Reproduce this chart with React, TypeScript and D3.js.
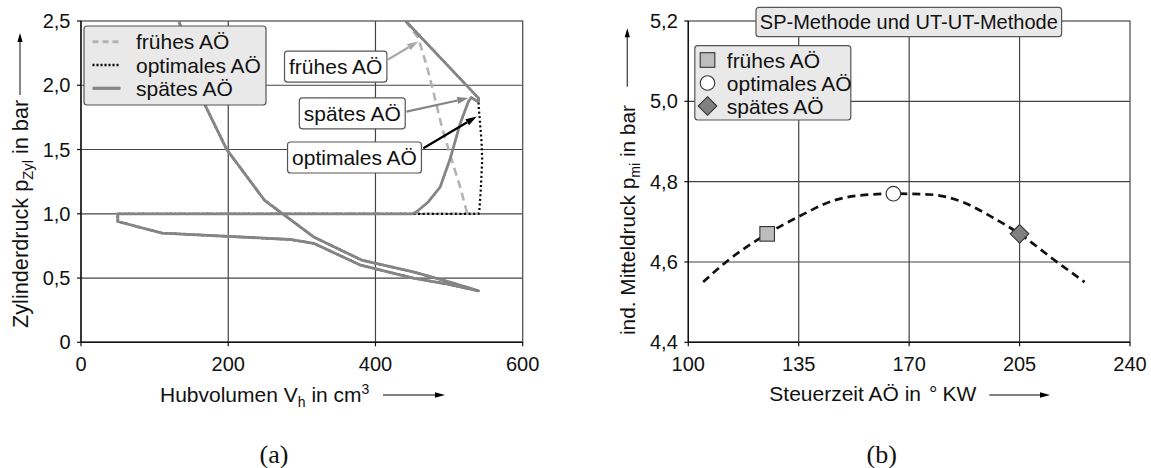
import React, { useEffect, useRef } from 'react';
import * as d3 from 'd3';

const W = 1151;
const H = 468;
const SANS = '"Liberation Sans", Arial, Helvetica, sans-serif';
const SERIF = '"Liberation Serif", "DejaVu Serif", serif';

// ---------- Panel (a): p-V diagram ----------
const volTicks = [0, 200, 400, 600];
const volLabels = ['0', '200', '400', '600'];
const pTicks = [0, 0.5, 1.0, 1.5, 2.0, 2.5];
const pLabels = ['0', '0,5', '1,0', '1,5', '2,0', '2,5'];

// exhaust stroke, intake stroke and compression (common to all three cases)
const sharedCycle: [number, number][] = [
  [450, 1.0], [50, 1.0], [50, 0.94], [110, 0.85], [284, 0.80], [316, 0.77],
  [380, 0.60], [451, 0.50], [500, 0.45], [540, 0.40],
  [500, 0.47], [450, 0.55], [381, 0.64], [316, 0.82], [249, 1.107],
  [198, 1.5], [169, 1.84], [133, 2.5],
];
// expansion + blow-down, different for each exhaust-opening time
const fruehBlowdown: [number, number][] = [
  [441, 2.5], [458, 2.37], [470, 2.145], [479, 1.94], [490, 1.68], [503.5, 1.42],
  [515, 1.21], [524, 1.016], [527, 1.0], [540, 1.0],
];
const optimalBlowdown: [number, number][] = [
  [441, 2.5], [540, 1.90], [540, 1.85], [544, 1.57], [545, 1.42], [543, 1.185],
  [541, 1.016], [540, 1.0],
];
const spaetBlowdown: [number, number][] = [
  [441, 2.5], [540, 1.90], [540, 1.87], [530, 1.905], [526, 1.87], [515, 1.70],
  [501, 1.42], [488, 1.21], [472, 1.094], [456, 1.016],
];

const seriesA = [
  { name: 'frühes AÖ', pts: [...fruehBlowdown, ...sharedCycle], color: '#b3b3b3', width: 2.6, dash: '8,5' },
  { name: 'optimales AÖ', pts: [...optimalBlowdown, ...sharedCycle], color: '#000000', width: 2.2, dash: '2,2.6' },
  { name: 'spätes AÖ', pts: [...spaetBlowdown, ...sharedCycle], color: '#858585', width: 2.8, dash: null },
];

// annotation boxes (data coordinates)
const annotations = [
  { label: 'frühes AÖ', cx: 346, cy: 2.145, ax: 417, ay: 2.20, tx: 458, ty: 2.34, color: '#aaaaaa' },
  { label: 'spätes AÖ', cx: 368.5, cy: 1.782, ax: 442, ay: 1.795, tx: 526, ty: 1.90, color: '#858585' },
  { label: 'optimales AÖ', cx: 371.5, cy: 1.438, ax: 465, ay: 1.51, tx: 537.5, ty: 1.756, color: '#000000' },
];

// ---------- Panel (b): mean pressure vs. timing ----------
const timeTicks = [100, 135, 170, 205, 240];
const timeLabels = ['100', '135', '170', '205', '240'];
const pmiTicks = [4.4, 4.6, 4.8, 5.0, 5.2];
const pmiLabels = ['4,4', '4,6', '4,8', '5,0', '5,2'];
const pmiCurveX = [104.7, 112, 125, 135, 146.5, 156, 165, 176.5, 187, 196, 205, 216, 225.6];
const pmiCurveY = [4.55, 4.60, 4.67, 4.713, 4.754, 4.767, 4.77, 4.768, 4.749, 4.713, 4.67, 4.605, 4.55];
const markerNames = ['frühes AÖ', 'optimales AÖ', 'spätes AÖ'];
const markerX = [125, 165, 205];
const markerY = [4.67, 4.77, 4.67];
const markerShapes = ['square', 'circle', 'diamond'];
const markerFills = ['#bdbdbd', '#ffffff', '#808080'];

function drawMarker(g: any, shape: string, x: number, y: number, fill: string) {
  if (shape === 'square') {
    g.append('rect').attr('x', x - 7.3).attr('y', y - 7.3).attr('width', 14.6).attr('height', 14.6)
      .attr('fill', fill).attr('stroke', '#333').attr('stroke-width', 1.1);
  } else if (shape === 'circle') {
    g.append('circle').attr('cx', x).attr('cy', y).attr('r', 7.3)
      .attr('fill', fill).attr('stroke', '#333').attr('stroke-width', 1.1);
  } else {
    const s = 9.3;
    g.append('path').attr('d', `M${x},${y - s}L${x + s},${y}L${x},${y + s}L${x - s},${y}Z`)
      .attr('fill', fill).attr('stroke', '#333').attr('stroke-width', 1.1);
  }
}

function drawPanel(root: any, opts: any) {
  const { x, y, xTicks, xLabels, yTicks, yLabels } = opts;
  const [x0, x1] = x.range();
  const [y1, y0] = y.range();
  const g = root.append('g');
  xTicks.slice(1, -1).forEach((t: number) => {
    g.append('line').attr('x1', x(t)).attr('x2', x(t)).attr('y1', y0).attr('y2', y1)
      .attr('stroke', '#444').attr('stroke-width', 1.2);
  });
  yTicks.slice(1, -1).forEach((t: number) => {
    g.append('line').attr('x1', x0).attr('x2', x1).attr('y1', y(t)).attr('y2', y(t))
      .attr('stroke', '#444').attr('stroke-width', 1.2);
  });
  g.append('rect').attr('x', x0).attr('y', y0).attr('width', x1 - x0).attr('height', y1 - y0)
    .attr('fill', 'none').attr('stroke', '#555').attr('stroke-width', 1.3);
  g.append('line').attr('x1', x0).attr('x2', x0).attr('y1', y0).attr('y2', y1).attr('stroke', '#111').attr('stroke-width', 1.4);
  g.append('line').attr('x1', x0).attr('x2', x1).attr('y1', y1).attr('y2', y1).attr('stroke', '#111').attr('stroke-width', 1.4);
  xTicks.forEach((t: number, i: number) => {
    g.append('line').attr('x1', x(t)).attr('x2', x(t)).attr('y1', y1).attr('y2', y1 + 4).attr('stroke', '#111').attr('stroke-width', 1.2);
    g.append('text').attr('x', x(t)).attr('y', y1 + 28.5).attr('text-anchor', 'middle')
      .attr('font-family', SANS).attr('font-size', 20).attr('fill', '#111').text(xLabels[i]);
  });
  yTicks.forEach((t: number, i: number) => {
    g.append('line').attr('x1', x0 - 4).attr('x2', x0).attr('y1', y(t)).attr('y2', y(t)).attr('stroke', '#111').attr('stroke-width', 1.2);
    g.append('text').attr('x', x0 - 10.5).attr('y', y(t) + 7).attr('text-anchor', 'end')
      .attr('font-family', SANS).attr('font-size', 20).attr('fill', '#111').text(yLabels[i]);
  });
}

function yTitle(root: any, bx: number, by: number, size: number, main: string, sub: string, rest: string, arrowX: number, arrowTop: number, arrowBottom: number) {
  const t = root.append('text').attr('transform', `translate(${bx},${by}) rotate(-90)`)
    .attr('font-family', SANS).attr('font-size', size).attr('fill', '#111');
  t.append('tspan').text(main);
  t.append('tspan').attr('font-size', size * 0.68).attr('dy', 5).text(sub);
  t.append('tspan').attr('dy', -5).text(rest);
  root.append('line').attr('x1', arrowX).attr('x2', arrowX).attr('y1', arrowBottom).attr('y2', arrowTop + 6)
    .attr('stroke', '#444').attr('stroke-width', 1.3);
  root.append('path').attr('d', `M${arrowX},${arrowTop}L${arrowX + 2.6},${arrowTop + 9}L${arrowX - 2.6},${arrowTop + 9}Z`).attr('fill', '#000');
}

function xArrow(root: any, xs: number, xe: number, yy: number) {
  root.append('line').attr('x1', xs).attr('x2', xe - 6).attr('y1', yy).attr('y2', yy)
    .attr('stroke', '#555').attr('stroke-width', 1.4);
  root.append('path').attr('d', `M${xe},${yy}L${xe - 10},${yy - 2.8}L${xe - 10},${yy + 2.8}Z`).attr('fill', '#000');
}

function draw(svgEl: SVGSVGElement) {
  const root = d3.select(svgEl);
  root.selectAll('*').remove();
  root.append('rect').attr('width', W).attr('height', H).attr('fill', '#fff');
  const defs = root.append('defs');

  // ======== Panel (a) ========
  const xa = d3.scaleLinear().domain([0, 600]).range([81, 522.7]);
  const ya = d3.scaleLinear().domain([0, 2.5]).range([342.3, 21]);
  drawPanel(root, { x: xa, y: ya, xTicks: volTicks, xLabels: volLabels, yTicks: pTicks, yLabels: pLabels });

  defs.append('clipPath').attr('id', 'clipA').append('rect')
    .attr('x', 81).attr('y', 21).attr('width', 522.7 - 81).attr('height', 342.3 - 21);
  const lineA = d3.line<[number, number]>().x(d => xa(d[0])).y(d => ya(d[1]));
  const gA = root.append('g').attr('clip-path', 'url(#clipA)');
  seriesA.forEach(s => {
    const p = gA.append('path').attr('d', lineA(s.pts)).attr('fill', 'none')
      .attr('stroke', s.color).attr('stroke-width', s.width).attr('stroke-linejoin', 'round');
    if (s.dash) p.attr('stroke-dasharray', s.dash);
  });

  annotations.forEach(a => {
    const g = root.append('g');
    const cx = xa(a.cx), cy = ya(a.cy);
    const txt = g.append('text').attr('x', cx).attr('y', cy + 7.5).attr('text-anchor', 'middle')
      .attr('font-family', SANS).attr('font-size', 21).attr('fill', '#111').text(a.label);
    const bb = (txt.node() as SVGTextElement).getBBox();
    g.insert('rect', 'text').attr('x', bb.x - 4.5).attr('y', cy - 15.5).attr('width', bb.width + 9).attr('height', 31)
      .attr('rx', 3).attr('fill', '#fff').attr('stroke', '#555').attr('stroke-width', 1.2);
    const sx = xa(a.ax), sy = ya(a.ay), ex = xa(a.tx), ey = ya(a.ty);
    const ang = Math.atan2(ey - sy, ex - sx);
    const L = 11, Wd = 3.6;
    const bx = ex - L * Math.cos(ang), by = ey - L * Math.sin(ang);
    root.append('line').attr('x1', sx).attr('y1', sy).attr('x2', bx).attr('y2', by)
      .attr('stroke', a.color).attr('stroke-width', 2.2);
    root.append('path').attr('d', `M${ex},${ey}L${bx - Wd * Math.sin(ang)},${by + Wd * Math.cos(ang)}L${bx + Wd * Math.sin(ang)},${by - Wd * Math.cos(ang)}Z`)
      .attr('fill', a.color);
  });

  const lgA = root.append('g');
  lgA.append('rect').attr('x', 84).attr('y', 26).attr('width', 182).attr('height', 79).attr('rx', 3)
    .attr('fill', '#e9e9e9').attr('stroke', '#555').attr('stroke-width', 1.2);
  seriesA.forEach((s, i) => {
    const yy = 41.7 + i * 23.3;
    const l = lgA.append('line').attr('x1', 92.5).attr('x2', 120.5).attr('y1', yy).attr('y2', yy)
      .attr('stroke', s.color).attr('stroke-width', s.width + 0.4);
    if (s.dash) l.attr('stroke-dasharray', i === 0 ? '6,4' : '2,2');
    lgA.append('text').attr('x', 136).attr('y', yy + 7.5).attr('font-family', SANS).attr('font-size', 21)
      .attr('fill', '#111').text(s.name);
  });

  yTitle(root, 28, 328, 21.7, 'Zylinderdruck p', 'Zyl', ' in bar', 20, 33, 95);
  const xtA = root.append('text').attr('x', 160).attr('y', 402).attr('font-family', SANS).attr('font-size', 21).attr('fill', '#111');
  xtA.append('tspan').text('Hubvolumen V');
  xtA.append('tspan').attr('font-size', 14).attr('dy', 5).text('h');
  xtA.append('tspan').attr('dy', -5).text(' in cm');
  xtA.append('tspan').attr('font-size', 14).attr('dy', -8).text('3');
  xArrow(root, 383, 445, 395);
  root.append('text').attr('x', 274).attr('y', 463).attr('text-anchor', 'middle').attr('font-family', SERIF)
    .attr('font-size', 26).attr('fill', '#111').text('(a)');

  // ======== Panel (b) ========
  const xb = d3.scaleLinear().domain([100, 240]).range([688.3, 1130]);
  const yb = d3.scaleLinear().domain([4.4, 5.2]).range([342.3, 21]);
  drawPanel(root, { x: xb, y: yb, xTicks: timeTicks, xLabels: timeLabels, yTicks: pmiTicks, yLabels: pmiLabels });

  const curve = d3.line<number>().x((d, i) => xb(pmiCurveX[i])).y(d => yb(d)).curve(d3.curveMonotoneX);
  root.append('path').attr('d', curve(pmiCurveY)).attr('fill', 'none').attr('stroke', '#111')
    .attr('stroke-width', 2.7).attr('stroke-dasharray', '8,5');
  markerX.forEach((mx, i) => drawMarker(root, markerShapes[i], xb(mx), yb(markerY[i]), markerFills[i]));

  const tb = root.append('g');
  tb.append('rect').attr('x', 756).attr('y', 7.3).attr('width', 305.6).attr('height', 29.4).attr('rx', 3)
    .attr('fill', '#e9e9e9').attr('stroke', '#555').attr('stroke-width', 1.2);
  tb.append('text').attr('x', 908.8).attr('y', 29).attr('text-anchor', 'middle').attr('font-family', SANS)
    .attr('font-size', 20).attr('fill', '#111').text('SP-Methode und UT-UT-Methode');

  const lgB = root.append('g');
  lgB.append('rect').attr('x', 694.8).attr('y', 45.7).attr('width', 156).attr('height', 74.3).attr('rx', 3)
    .attr('fill', '#e9e9e9').attr('stroke', '#555').attr('stroke-width', 1.2);
  markerNames.forEach((n, i) => {
    const yy = 60 + i * 23;
    drawMarker(lgB, markerShapes[i], 707.5, yy, markerFills[i]);
    lgB.append('text').attr('x', 726.8).attr('y', yy + 7.5).attr('font-family', SANS).attr('font-size', 21)
      .attr('fill', '#111').text(n);
  });

  yTitle(root, 635, 335, 20.8, 'ind. Mitteldruck p', 'mi', ' in bar', 627.3, 28.3, 86.7);
  const xtB = root.append('text').attr('x', 769.3).attr('y', 401).attr('font-family', SANS).attr('font-size', 21)
    .attr('fill', '#111');
  xtB.append('tspan').text('Steuerzeit AÖ in');
  xtB.append('tspan').attr('dx', 8).text('°');
  xtB.append('tspan').attr('dx', 5).text('KW');
  xArrow(root, 989.3, 1050, 395);
  root.append('text').attr('x', 881.7).attr('y', 463).attr('text-anchor', 'middle').attr('font-family', SERIF)
    .attr('font-size', 26).attr('fill', '#111').text('(b)');
}

export default function App() {
  const ref = useRef<SVGSVGElement>(null);
  useEffect(() => {
    if (ref.current) draw(ref.current);
  }, []);
  return (
    <svg ref={ref} width={W} height={H} style={{ position: 'absolute', left: 0, top: 0, display: 'block' }} />
  );
}
